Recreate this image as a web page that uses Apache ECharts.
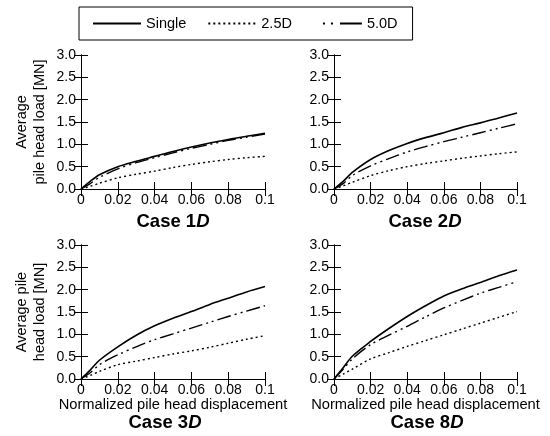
<!DOCTYPE html>
<html><head><meta charset="utf-8">
<script src="https://cdn.jsdelivr.net/npm/echarts@6/dist/echarts.min.js"></script>
<style>html,body{margin:0;padding:0;background:#fff}#c{width:550px;height:436px}</style>
</head><body><div id="c"></div>
<script>
// ---- data ----
const displacement = [0, 0.005, 0.01, 0.02, 0.03, 0.04, 0.05, 0.06, 0.07, 0.08, 0.09, 0.1];
const seriesNames = ['Single', '2.5D', '5.0D'];

const case1Single = [0, 0.17, 0.32, 0.50, 0.62, 0.73, 0.84, 0.94, 1.03, 1.11, 1.18, 1.25];
const case1D25    = [0, 0.06, 0.13, 0.25, 0.33, 0.40, 0.48, 0.55, 0.61, 0.66, 0.70, 0.73];
const case1D50    = [0, 0.12, 0.26, 0.45, 0.59, 0.70, 0.81, 0.91, 1.00, 1.09, 1.16, 1.23];

const case2Single = [0, 0.17, 0.37, 0.66, 0.86, 1.02, 1.15, 1.26, 1.38, 1.48, 1.59, 1.70];
const case2D25    = [0, 0.07, 0.15, 0.30, 0.41, 0.50, 0.57, 0.63, 0.69, 0.74, 0.79, 0.83];
const case2D50    = [0, 0.12, 0.30, 0.52, 0.68, 0.83, 0.95, 1.06, 1.16, 1.26, 1.36, 1.46];

const case3Single = [0, 0.20, 0.42, 0.72, 0.98, 1.19, 1.36, 1.51, 1.67, 1.81, 1.95, 2.07];
const case3D25    = [0, 0.08, 0.17, 0.32, 0.40, 0.48, 0.56, 0.63, 0.71, 0.80, 0.89, 0.97];
const case3D50    = [0, 0.14, 0.32, 0.54, 0.72, 0.88, 1.01, 1.14, 1.27, 1.40, 1.52, 1.64];

const case8Single = [0, 0.25, 0.51, 0.84, 1.13, 1.40, 1.64, 1.86, 2.02, 2.16, 2.31, 2.44];
const case8D25    = [0, 0.11, 0.22, 0.45, 0.59, 0.73, 0.86, 0.99, 1.12, 1.25, 1.38, 1.51];
const case8D50    = [0, 0.22, 0.45, 0.77, 0.98, 1.18, 1.39, 1.59, 1.76, 1.92, 2.05, 2.18];

const caseNumbers = ['1', '2', '3', '8'];
const xTickLabels = ['0', '0.02', '0.04', '0.06', '0.08', '0.1'];
const yTickLabels = ['0.0', '0.5', '1.0', '1.5', '2.0', '2.5', '3.0'];
const xAxisName = 'Normalized pile head displacement';
const yAxisNames = ['Average\npile head load [MN]', '', 'Average pile\nhead load [MN]', ''];

const panelData = [
  [case1Single, case1D25, case1D50],
  [case2Single, case2D25, case2D50],
  [case3Single, case3D25, case3D50],
  [case8Single, case8D25, case8D50]
];

// ---- layout / style ----
const FONT = '"Liberation Sans", Arial, sans-serif';
const grids = [
  {left: 81, top: 55, width: 184, height: 134},
  {left: 334, top: 55, width: 183, height: 134},
  {left: 81, top: 245, width: 184, height: 134},
  {left: 334, top: 245, width: 183, height: 134}
];
const titlePos = [[173, 212], [425, 212], [165, 413], [427, 413]];
const lineStyles = [
  {color: '#000', width: 1.6, type: 'solid'},
  {color: '#000', width: 1.4, type: [2, 3]},
  {color: '#000', width: 1.4, type: [14, 4, 2, 4, 2, 4]}
];
const legendDash = [0.01, 9, 2, 6, 2, 7, 22, 0];

const axisLineStyle = {color: '#000', width: 1};
const xAxes = [], yAxes = [], series = [], titles = [];
grids.forEach((g, i) => {
  const bottomRow = i >= 2;
  xAxes.push({
    type: 'value', gridIndex: i, min: 0, max: 0.1, interval: 0.02, position: 'bottom',
    axisLine: {lineStyle: axisLineStyle},
    axisTick: {inside: true, length: 7, lineStyle: axisLineStyle},
    splitLine: {show: false},
    axisLabel: {margin: 4, color: '#000', fontSize: 14, fontFamily: FONT,
      formatter: v => xTickLabels[Math.round(v * 50)]},
    name: bottomRow ? xAxisName : '', nameLocation: 'middle', nameGap: 17,
    nameTextStyle: {color: '#000', fontSize: 14.7, fontFamily: FONT}
  });
  xAxes.push({
    type: 'value', gridIndex: i, min: 0, max: 0.1, interval: 0.02, position: 'top',
    axisLine: {lineStyle: axisLineStyle},
    axisTick: {inside: true, length: 7, lineStyle: axisLineStyle},
    splitLine: {show: false}, axisLabel: {show: false}
  });
  yAxes.push({
    type: 'value', gridIndex: i, min: 0, max: 3, interval: 0.5, position: 'left',
    axisLine: {lineStyle: axisLineStyle},
    axisTick: {inside: true, length: 7, lineStyle: axisLineStyle},
    splitLine: {show: false},
    axisLabel: {margin: 5, color: '#000', fontSize: 14, fontFamily: FONT,
      formatter: v => yTickLabels[Math.round(v * 2)]},
    name: yAxisNames[i], nameLocation: 'middle', nameGap: 32,
    nameTextStyle: {color: '#000', fontSize: 14.5, fontFamily: FONT, lineHeight: 18}
  });
  yAxes.push({
    type: 'value', gridIndex: i, min: 0, max: 3, interval: 0.5, position: 'right',
    axisLine: {lineStyle: axisLineStyle},
    axisTick: {inside: true, length: 7, lineStyle: axisLineStyle},
    splitLine: {show: false}, axisLabel: {show: false}
  });
  panelData[i].forEach((vals, k) => {
    series.push({
      name: seriesNames[k], type: 'line', xAxisIndex: 2 * i, yAxisIndex: 2 * i,
      data: displacement.map((x, j) => [x, vals[j]]),
      showSymbol: false, symbol: 'none', smooth: 0.3,
      lineStyle: lineStyles[k], itemStyle: {color: '#000'}, z: 3 - k
    });
  });
  titles.push({
    text: '{a|Case ' + caseNumbers[i] + '}{b|D}',
    left: titlePos[i][0], top: titlePos[i][1], textAlign: 'center', padding: 0,
    textStyle: {rich: {
      a: {fontSize: 18.5, fontWeight: 'bold', fontFamily: FONT, color: '#000'},
      b: {fontSize: 18.5, fontWeight: 'bold', fontStyle: 'italic', fontFamily: FONT, color: '#000'}
    }}
  });
});

const chart = echarts.init(document.getElementById('c'), null, {renderer: 'canvas'});
chart.setOption({
  animation: false,
  backgroundColor: '#fff',
  title: titles,
  legend: {
    data: [
      {name: seriesNames[0]},
      {name: seriesNames[1]},
      {name: seriesNames[2], lineStyle: {type: legendDash}}
    ],
    left: 79, top: 7, orient: 'horizontal',
    borderColor: '#000', borderWidth: 1, padding: [9, 15, 9, 13],
    itemWidth: 48, itemHeight: 14, itemGap: 21,
    itemStyle: {color: 'rgba(0,0,0,0)', borderColor: 'rgba(0,0,0,0)', borderWidth: 0},
    textStyle: {color: '#000', fontSize: 14.5, fontFamily: FONT}
  },
  grid: grids,
  xAxis: xAxes,
  yAxis: yAxes,
  series: series
});
</script></body></html>
